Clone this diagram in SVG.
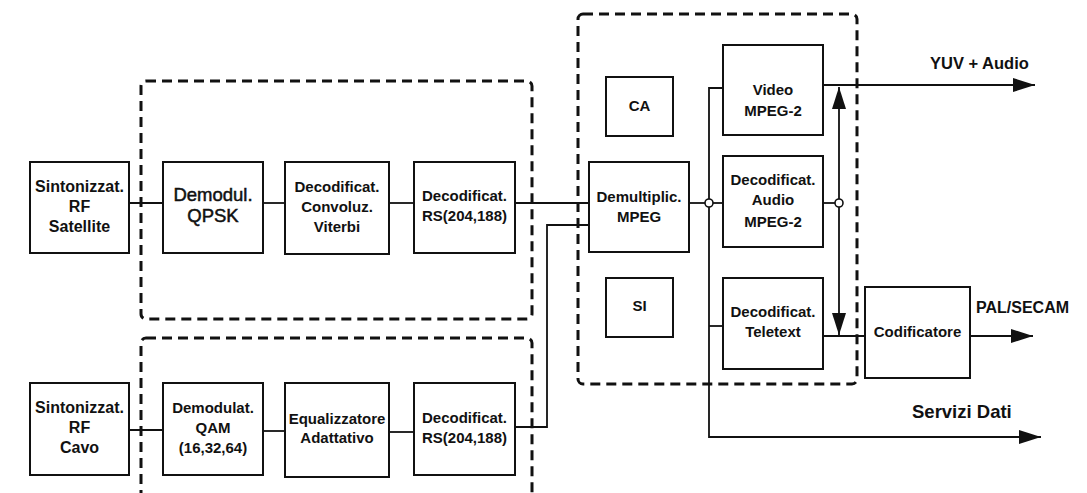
<svg xmlns="http://www.w3.org/2000/svg" width="1087" height="493" viewBox="0 0 1087 493">
<defs>
<style>
.box{fill:#fff;stroke:#111;stroke-width:2}
.dash{fill:none;stroke:#111;stroke-width:3;stroke-dasharray:10 6}
.ln{fill:none;stroke:#111;stroke-width:1.8}
.t{font-family:"Liberation Sans",Arial,sans-serif;font-weight:bold;font-size:15px;fill:#111;text-anchor:middle}
.tr{font-family:"Liberation Sans",Arial,sans-serif;font-weight:normal;font-size:18.5px;fill:#111;stroke:#111;stroke-width:0.5;text-anchor:middle}
.lab{font-family:"Liberation Sans",Arial,sans-serif;font-weight:bold;font-size:16.5px;fill:#111}
.dot{fill:#fff;stroke:#111;stroke-width:1.6}
</style>
<marker id="ah" viewBox="0 0 22 14" refX="22" refY="7" markerWidth="22" markerHeight="14" markerUnits="userSpaceOnUse" orient="auto">
<path d="M0,0 L22,7 L0,14 Z" fill="#111"/>
</marker>
</defs>
<rect width="1087" height="493" fill="#fff"/>

<g id="groups">
<rect class="dash" x="141" y="81" width="391" height="238" rx="5"/>
<rect class="dash" x="141" y="338" width="391" height="200" rx="5"/>
<rect class="dash" x="578" y="14" width="279" height="370" rx="5"/>
</g>

<g id="connectors">
<line class="ln" x1="129" y1="203" x2="163" y2="203"/>
<line class="ln" x1="263" y1="203" x2="285" y2="203"/>
<line class="ln" x1="389" y1="203" x2="414" y2="203"/>
<line class="ln" x1="515" y1="203" x2="589" y2="203"/>
<line class="ln" x1="129" y1="430" x2="163" y2="430"/>
<line class="ln" x1="263" y1="431" x2="285" y2="431"/>
<line class="ln" x1="389" y1="432" x2="414" y2="432"/>
<polyline class="ln" points="515,427 547,427 547,225 589,225"/>
<line class="ln" x1="689" y1="203" x2="705" y2="203"/>
<polyline class="ln" points="723,88 709,88 709,437 1041,437" marker-end="url(#ah)"/>
<line class="ln" x1="713" y1="203" x2="723" y2="203"/>
<line class="ln" x1="709" y1="326" x2="723" y2="326"/>
<line class="ln" x1="823" y1="85" x2="1035" y2="85" marker-end="url(#ah)"/>
<line class="ln" x1="823" y1="203" x2="835" y2="203"/>
<line class="ln" x1="839" y1="199" x2="839" y2="87" marker-end="url(#ah)"/>
<line class="ln" x1="839" y1="207" x2="839" y2="335" marker-end="url(#ah)"/>
<line class="ln" x1="823" y1="336" x2="865" y2="336"/>
<line class="ln" x1="970" y1="336" x2="1033" y2="336" marker-end="url(#ah)"/>
<circle class="dot" cx="709" cy="203" r="4"/>
<circle class="dot" cx="839" cy="203" r="4"/>
</g>

<g id="sat-tuner">
<rect class="box" x="30" y="162" width="99" height="91"/>
<text class="t" x="79.5" y="192" style="font-size:16px">Sintonizzat.</text>
<text class="t" x="79.5" y="212" style="font-size:16px">RF</text>
<text class="t" x="79.5" y="232" style="font-size:16px">Satellite</text>
</g>
<g id="qpsk">
<rect class="box" x="163" y="162" width="100" height="91"/>
<text class="tr" x="213" y="201">Demodul.</text>
<text class="tr" x="213" y="222">QPSK</text>
</g>
<g id="viterbi">
<rect class="box" x="285" y="162" width="104" height="92"/>
<text class="t" x="337" y="192">Decodificat.</text>
<text class="t" x="337" y="212">Convoluz.</text>
<text class="t" x="337" y="232">Viterbi</text>
</g>
<g id="rs1">
<rect class="box" x="414" y="162" width="101" height="91"/>
<text class="t" x="464.5" y="201">Decodificat.</text>
<text class="t" x="464.5" y="221">RS(204,188)</text>
</g>

<g id="cable-tuner">
<rect class="box" x="30" y="383" width="99" height="92"/>
<text class="t" x="79.5" y="413" style="font-size:16px">Sintonizzat.</text>
<text class="t" x="79.5" y="433" style="font-size:16px">RF</text>
<text class="t" x="79.5" y="453" style="font-size:16px">Cavo</text>
</g>
<g id="qam">
<rect class="box" x="163" y="383" width="100" height="92"/>
<text class="t" x="213" y="413">Demodulat.</text>
<text class="t" x="213" y="433">QAM</text>
<text class="t" x="213" y="453">(16,32,64)</text>
</g>
<g id="equalizer">
<rect class="box" x="285" y="383" width="104" height="94"/>
<text class="t" x="337" y="424">Equalizzatore</text>
<text class="t" x="337" y="443">Adattativo</text>
</g>
<g id="rs2">
<rect class="box" x="414" y="383" width="101" height="92"/>
<text class="t" x="464.5" y="423">Decodificat.</text>
<text class="t" x="464.5" y="443">RS(204,188)</text>
</g>

<g id="ca">
<rect class="box" x="606" y="77" width="67" height="59"/>
<text class="t" x="639.5" y="111">CA</text>
</g>
<g id="demux">
<rect class="box" x="589" y="162" width="100" height="90"/>
<text class="t" x="639" y="202">Demultiplic.</text>
<text class="t" x="639" y="222">MPEG</text>
</g>
<g id="si">
<rect class="box" x="606" y="278" width="67" height="59"/>
<text class="t" x="639.5" y="311">SI</text>
</g>
<g id="video">
<rect class="box" x="723" y="45" width="100" height="90"/>
<text class="t" x="773" y="95">Video</text>
<text class="t" x="773" y="116">MPEG-2</text>
</g>
<g id="audio">
<rect class="box" x="723" y="156" width="100" height="91"/>
<text class="t" x="773" y="185">Decodificat.</text>
<text class="t" x="773" y="205">Audio</text>
<text class="t" x="773" y="227">MPEG-2</text>
</g>
<g id="teletext">
<rect class="box" x="723" y="278" width="100" height="91"/>
<text class="t" x="773" y="317">Decodificat.</text>
<text class="t" x="773" y="337">Teletext</text>
</g>
<g id="encoder">
<rect class="box" x="865" y="287" width="105" height="91"/>
<text class="t" x="917.5" y="337">Codificatore</text>
</g>

<g id="labels">
<text class="lab" x="930" y="69">YUV + Audio</text>
<text class="lab" x="976" y="313" style="font-size:16px">PAL/SECAM</text>
<text class="lab" x="912" y="418" style="font-size:18.5px">Servizi Dati</text>
</g>
</svg>
